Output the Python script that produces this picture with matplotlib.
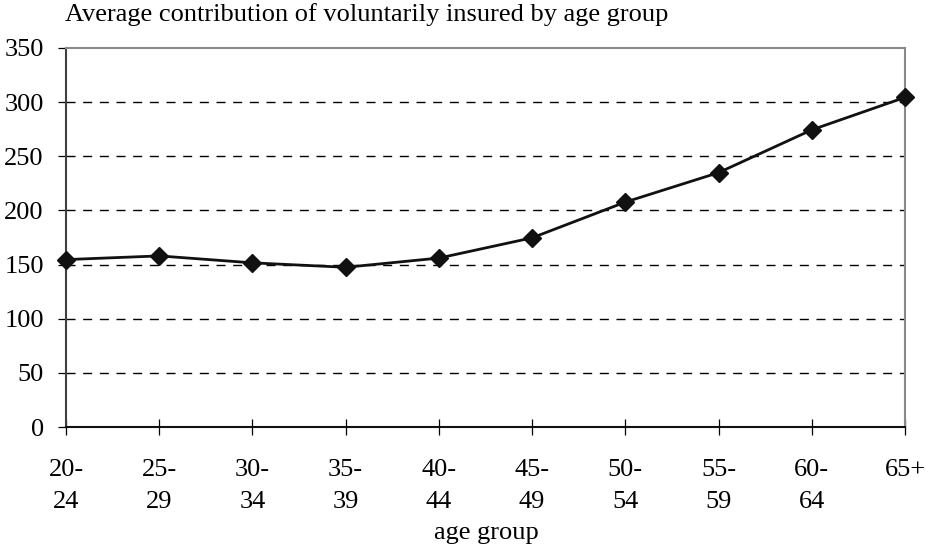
import matplotlib
matplotlib.use("Agg")
import matplotlib.pyplot as plt

categories = ["20-\n24", "25-\n29", "30-\n34", "35-\n39", "40-\n44",
              "45-\n49", "50-\n54", "55-\n59", "60-\n64", "65+"]
values = [154.6, 158.0, 151.6, 147.5, 156.0, 174.7, 207.7, 234.9, 274.4, 304.4]
yticks = [0, 50, 100, 150, 200, 250, 300, 350]

plt.rcParams['font.family'] = ['Liberation Serif', 'DejaVu Serif']

fig = plt.figure(figsize=(9.26, 5.44), dpi=100)
ax = fig.add_axes([66/926, 1-427/544, (905-66)/926, (427-48)/544])

x = list(range(len(categories)))
ax.plot(x, values, color='#111111', lw=2.0, marker='D', markersize=9.5,
        markerfacecolor='#111111', markeredgecolor='#111111', zorder=4, clip_on=False)

ax.set_xlim(0, len(categories)-1)
ax.set_ylim(0, 350)
ax.set_yticks(yticks)
ax.set_yticklabels([str(v) for v in yticks], fontsize=19)
ax.set_xticks(x)
ax.set_xticklabels(categories, fontsize=19, linespacing=1.6, va='top')

for v in yticks[1:-1]:
    ax.axhline(v, color='black', lw=1.0, ls=(0, (6.5, 5.5)), zorder=1)

ax.tick_params(axis='y', direction='out', length=6, width=0.9, pad=10)
ax.tick_params(axis='x', direction='inout', length=12, width=0.9, pad=17)

ax.spines['top'].set_color('#8a8a8a')
ax.spines['right'].set_color('#8a8a8a')
ax.spines['left'].set_color('#404040')
ax.spines['bottom'].set_color('#111111')
for s in ax.spines.values():
    s.set_linewidth(1.5)

fig.text(65/926, 1-20.7/544, "Average contribution of voluntarily insured by age group",
         fontsize=19, ha='left', va='baseline')
fig.text(486/926, 1-539/544, "age group", fontsize=19, ha='center', va='baseline')

fig.savefig("out.png", dpi=100)
